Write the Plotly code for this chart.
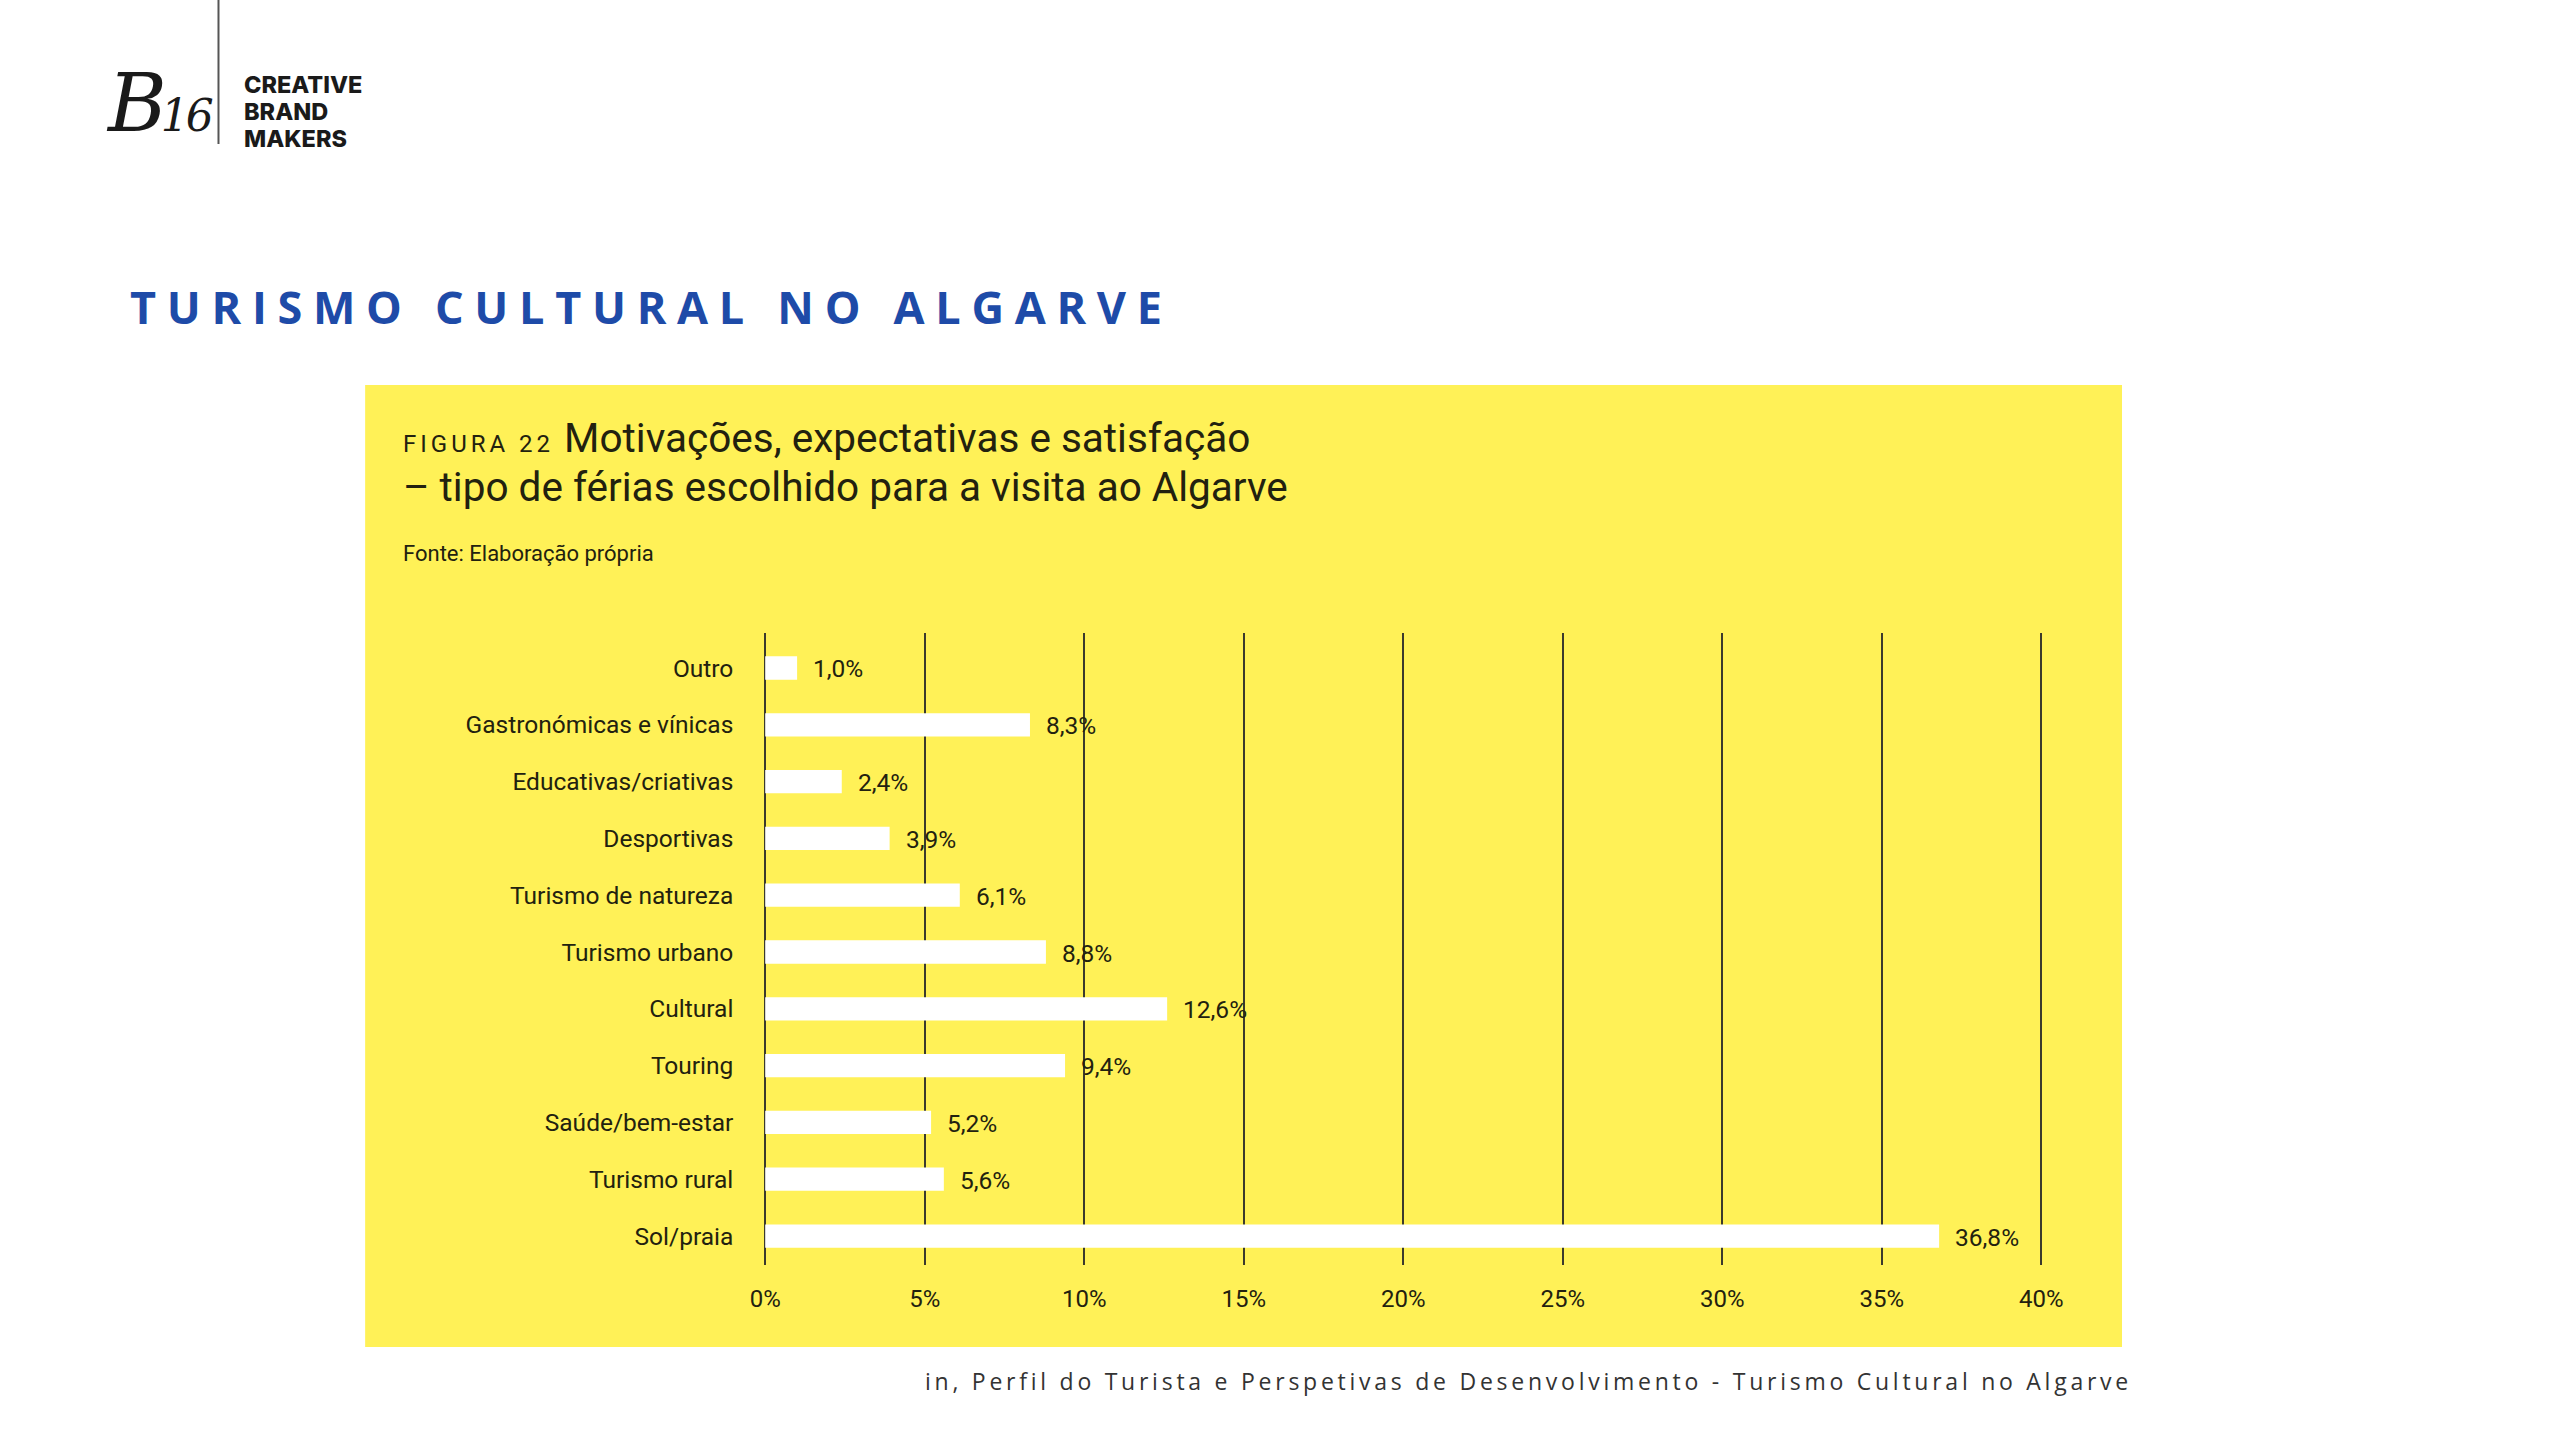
import plotly.graph_objects as go

W, H = 2560, 1440

# ---- data (top to bottom as shown) ----
categories = [
    "Outro", "Gastronómicas e vínicas", "Educativas/criativas", "Desportivas",
    "Turismo de natureza", "Turismo urbano", "Cultural", "Touring",
    "Saúde/bem-estar", "Turismo rural", "Sol/praia",
]
values = [1.0, 8.3, 2.4, 3.9, 6.1, 8.8, 12.6, 9.4, 5.2, 5.6, 36.8]
x_ticks = [0, 5, 10, 15, 20, 25, 30, 35, 40]
x_tick_labels = [f"{t}%" for t in x_ticks]

value_labels = [f"{v:.1f}".replace(".", ",") + "%" for v in values]

YELLOW = "#FFF157"
INK = "#22210F"
BLUE = "#1E4BA8"
FONT = "Roboto, Inter, sans-serif"


def px(x):
    return x / W


def py(y):
    return 1 - y / H


fig = go.Figure()
fig.add_trace(go.Bar(
    x=values, y=categories, orientation="h",
    marker=dict(color="white", line=dict(width=0)),
    width=0.41, hoverinfo="skip", showlegend=False,
))

annotations = []
for cat, lab, v in zip(categories, value_labels, values):
    annotations.append(dict(
        x=v, y=cat, xref="x", yref="y", text=lab, showarrow=False,
        xanchor="left", yanchor="middle", xshift=14, yshift=-1,
        font=dict(family=FONT, size=24.5, color=INK),
    ))

# header / logo
annotations += [
    dict(x=px(128), y=py(306), xref="paper", yref="paper", xanchor="left", yanchor="middle",
         showarrow=False,
         text='<span style="letter-spacing:10.7px">TURISMO CULTURAL NO ALGARVE</span>',
         font=dict(family="Open Sans", size=45, color=BLUE, weight=700)),
    dict(x=px(243), y=py(84), xref="paper", yref="paper", xanchor="left", yanchor="middle",
         showarrow=False, text="CREATIVE",
         font=dict(family="Inter", size=23.5, color="#1a1a1a", weight=800)),
    dict(x=px(243), y=py(111), xref="paper", yref="paper", xanchor="left", yanchor="middle",
         showarrow=False, text="BRAND",
         font=dict(family="Inter", size=23.5, color="#1a1a1a", weight=800)),
    dict(x=px(243), y=py(138), xref="paper", yref="paper", xanchor="left", yanchor="middle",
         showarrow=False, text="MAKERS",
         font=dict(family="Inter", size=23.5, color="#1a1a1a", weight=800)),
    dict(x=px(104), y=py(104), xref="paper", yref="paper", xanchor="left", yanchor="middle",
         showarrow=False,
         text='<span style="letter-spacing:-6px">B</span><span style="font-size:44px;letter-spacing:-3px">16</span>',
         font=dict(family="DejaVu Serif", size=80, color="#1a1a1a", style="italic")),
    # chart title
    dict(x=px(402), y=py(438), xref="paper", yref="paper", xanchor="left", yanchor="middle",
         showarrow=False,
         text='<span style="font-size:24px;letter-spacing:4px">FIGURA 22</span> Motivações, expectativas e satisfação',
         font=dict(family=FONT, size=40.5, color=INK)),
    dict(x=px(402), y=py(487), xref="paper", yref="paper", xanchor="left", yanchor="middle",
         showarrow=False,
         text="– tipo de férias escolhido para a visita ao Algarve",
         font=dict(family=FONT, size=40.5, color=INK)),
    dict(x=px(402), y=py(553), xref="paper", yref="paper", xanchor="left", yanchor="middle",
         showarrow=False, text="Fonte: Elaboração própria",
         font=dict(family=FONT, size=22, color=INK)),
    # footer
    dict(x=px(2139), y=py(1381), xref="paper", yref="paper", xanchor="right", yanchor="middle",
         showarrow=False,
         text='<span style="letter-spacing:3.75px">in, Perfil do Turista e Perspetivas de Desenvolvimento - Turismo Cultural no Algarve</span>',
         font=dict(family="Open Sans", size=23, color="#333333", weight=400)),
]

shapes = [
    dict(type="rect", xref="paper", yref="paper", x0=px(366), x1=px(2127), y0=py(1347), y1=py(385),
         fillcolor=YELLOW, line=dict(width=0), layer="below"),
    dict(type="line", xref="paper", yref="paper", x0=px(219), x1=px(219), y0=py(0), y1=py(144),
         line=dict(color="#555555", width=2)),
]

x_left, x_right = -0.5, 40.5
unit = 31.975
zero_px = 767
dom_left = zero_px + x_left * unit
dom_right = zero_px + x_right * unit

fig.update_layout(
    width=W, height=H,
    margin=dict(l=0, r=0, t=0, b=0),
    paper_bgcolor="white", plot_bgcolor="rgba(0,0,0,0)",
    annotations=annotations, shapes=shapes,
    bargap=0.5,
    xaxis=dict(
        domain=[px(dom_left), px(dom_right)], range=[x_left, x_right],
        tickmode="array", tickvals=x_ticks, ticktext=x_tick_labels,
        showgrid=True, gridcolor="#3b3a2c", gridwidth=1.6,
        zeroline=False, showline=False,
        ticks="outside", ticklen=12, tickcolor="rgba(0,0,0,0)",
        tickfont=dict(family=FONT, size=24, color=INK),
        fixedrange=True,
    ),
    yaxis=dict(
        domain=[py(1265), py(633)],
        categoryorder="array", categoryarray=categories,
        range=[10.51, -0.616],
        showgrid=False, zeroline=False, showline=False,
        ticks="outside", ticklen=10, tickcolor="rgba(0,0,0,0)",
        tickfont=dict(family=FONT, size=24.5, color=INK),
        fixedrange=True,
    ),
    font=dict(family=FONT, color=INK),
)

fig.write_html("out.html", config={"displayModeBar": False})
